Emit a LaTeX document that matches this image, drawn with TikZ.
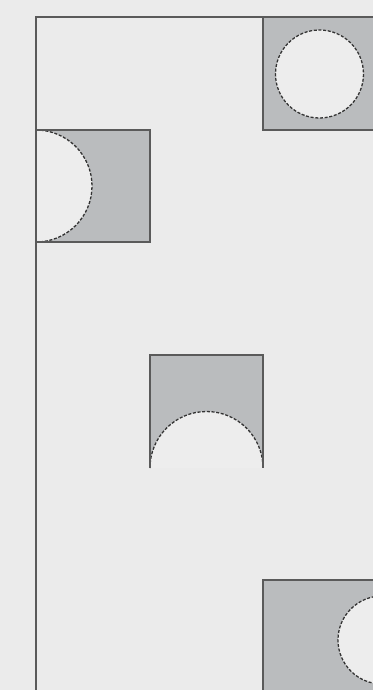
\documentclass[tikz,border=0pt]{standalone}
\usepackage{tikz}
\usetikzlibrary{positioning, calc}

\definecolor{paper}{HTML}{EBEBEB}
\definecolor{tilegray}{HTML}{BABCBE}
\definecolor{edgegray}{HTML}{5A5A5A}
\definecolor{holegray}{HTML}{EDEDED}

\begin{document}
\begin{tikzpicture}[
        x=0.03cm, y=-0.03cm,
        % Style for the grey square tiles
        tile/.style={
            fill=tilegray,
            draw=edgegray,
            line width=0.9pt
        },
        % Style for the dashed holes cut into the tiles
        hole/.style={
            fill=holegray,
            draw=black!80,
            dash pattern=on 2.6pt off 1.4pt,
            line width=1.1pt
        },
        frame/.style={
            draw=edgegray,
            line width=0.9pt
        }
    ]

    % Page background and fixed size
    \fill[paper] (0,0) rectangle (373,690);
    \useasboundingbox (0,0) rectangle (373,690);
    \clip (0,0) rectangle (373,690);

    % ==========================================
    % FRAME
    % ==========================================
    \coordinate (frame_corner) at (36,17);
    \coordinate (frame_bottom) at (36,700);
    \coordinate (frame_top) at (263,17);
    \draw[frame] (frame_bottom) -- (frame_corner) -- (frame_top);

    % ==========================================
    % TOP RIGHT TILE, FULL CIRCLE
    % ==========================================
    \draw[tile] (263,17) rectangle (390,130);
    \draw[hole] (319.5,74) circle (44);

    % ==========================================
    % LEFT TILE, HALF CIRCLE ON THE FRAME
    % ==========================================
    \fill[tilegray] (36,130) rectangle (150,242);
    \draw[hole] (36,130) arc (-90:90:56);
    \draw[tile, fill=none] (36,130) rectangle (150,242);

    % ==========================================
    % MIDDLE TILE, OPEN AT THE BOTTOM
    % ==========================================
    \fill[tilegray] (150,355) rectangle (263,468);
    \fill[holegray] (150,468) arc (180:360:56.5);
    \draw[hole, fill=none] (150,468) arc (180:360:56.5);
    \draw[tile, fill=none] (150,468) -- (150,355) -- (263,355) -- (263,468);

    % ==========================================
    % BOTTOM RIGHT TILE, CIRCLE CUT BY THE EDGE
    % ==========================================
    \draw[tile] (263,580) rectangle (390,700);
    \draw[hole] (382,640) circle (44);

\end{tikzpicture}
\end{document}
